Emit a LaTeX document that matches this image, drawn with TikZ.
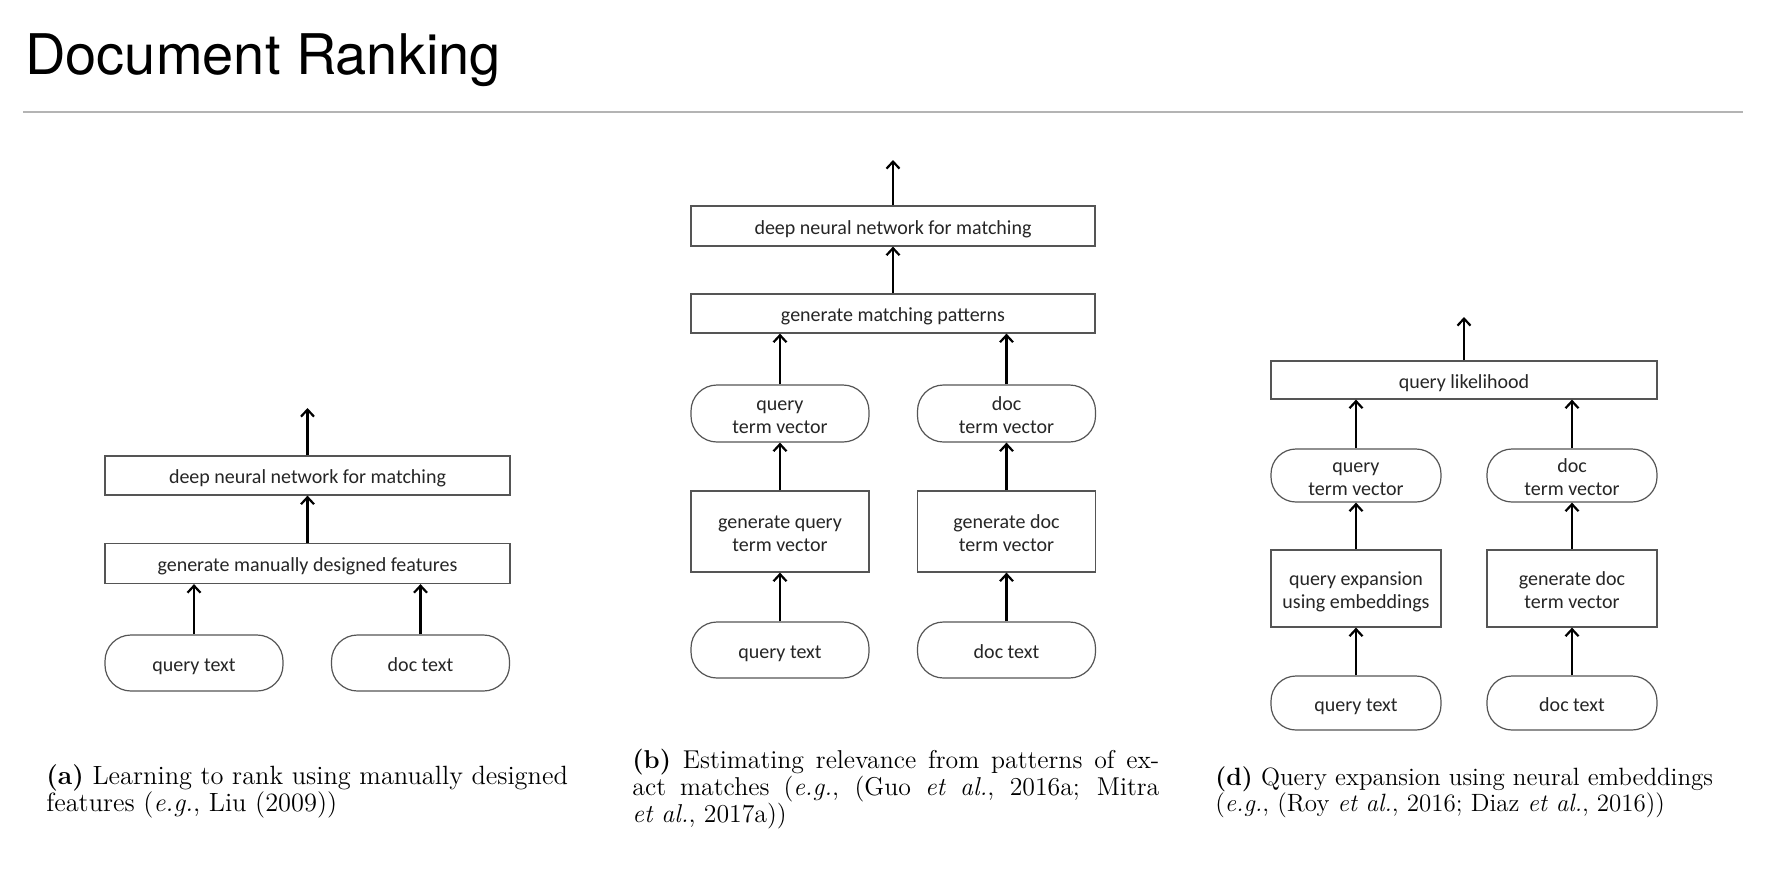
\documentclass[tikz,border=0pt]{standalone}
\usepackage{fontspec}
\newfontfamily\boxfont{Carlito}
\newfontfamily\headfont{TeX Gyre Heros}
\usetikzlibrary{arrows.meta}
\definecolor{boxgray}{HTML}{555555}
\definecolor{rulegray}{HTML}{B4B4B4}

\begin{document}
\begin{tikzpicture}[
  x=0.5pt, y=-0.5pt,
  blk/.style={draw=boxgray,line width=0.6pt,inner sep=1pt,align=center,
    text height=9.5pt,text depth=1.1pt,
    font=\boxfont\fontsize{10}{11.3}\selectfont,text=black!85},
  two/.style={text height=20.8pt,text depth=1.1pt},
  pill/.style={blk,rounded corners=#1},
  pill/.default=13pt,
  ptr/.style={-{Straight Barb[length=3.5pt,width=6.5pt]},line width=1.1pt},
  capt/.style={anchor=north west,inner sep=0pt,align=#1},
  capt/.default=left,
]
\fill[white] (0,0) rectangle (1777,874);
\useasboundingbox (0,0) rectangle (1777,874);

% title and rule
\node[anchor=base west,inner sep=0pt,font=\headfont\fontsize{28}{30}\selectfont]
  (title) at (25,74) {Document Ranking};
\draw[rulegray,line width=0.6pt] (23,112) -- (1743,112);

% (a) manually designed features
\node[blk,minimum width=202.5pt,minimum height=19.5pt] (dnnA) at (307.5,475.5)
  {deep neural network for matching};
\node[blk,minimum width=202.5pt,minimum height=20pt] (featA) at (307.5,563.5)
  {generate manually designed features};
\node[pill,minimum width=89pt,minimum height=28pt] (qtxtA) at (194,663) {query text};
\node[pill,minimum width=89pt,minimum height=28pt] (dtxtA) at (420.5,663) {doc text};
\coordinate (outA) at (307.5,408);

% (b) exact matches
\node[blk,minimum width=202pt,minimum height=20pt] (dnnB) at (893,226)
  {deep neural network for matching};
\node[blk,minimum width=202pt,minimum height=19.5pt] (patB) at (893,313.5)
  {generate matching patterns};
\node[pill,two,minimum width=89pt,minimum height=28.5pt] (qvecB) at (780,413.5)
  {query\\term vector};
\node[pill,two,minimum width=89pt,minimum height=28.5pt] (dvecB) at (1006.5,413.5)
  {doc\\term vector};
\node[blk,two,minimum width=89pt,minimum height=40.5pt] (qgenB) at (780,531.5)
  {generate query\\term vector};
\node[blk,two,minimum width=89pt,minimum height=40.5pt] (dgenB) at (1006.5,531.5)
  {generate doc\\term vector};
\node[pill,minimum width=89pt,minimum height=28pt] (qtxtB) at (780,650) {query text};
\node[pill,minimum width=89pt,minimum height=28pt] (dtxtB) at (1006.5,650) {doc text};
\coordinate (outB) at (893,160);

% (d) query expansion
\node[blk,minimum width=193pt,minimum height=19pt] (qlD) at (1464,380)
  {query likelihood};
\node[pill=12.5pt,two,minimum width=85pt,minimum height=26.5pt] (qvecD) at (1356,475.5)
  {query\\term vector};
\node[pill=12.5pt,two,minimum width=85pt,minimum height=26.5pt] (dvecD) at (1572,475.5)
  {doc\\term vector};
\node[blk,two,minimum width=85pt,minimum height=38.5pt] (qexpD) at (1356,588.5)
  {query expansion\\using embeddings};
\node[blk,two,minimum width=85pt,minimum height=38.5pt] (dgenD) at (1572,588.5)
  {generate doc\\term vector};
\node[pill=12.5pt,minimum width=85pt,minimum height=27pt] (qtxtD) at (1356,703) {query text};
\node[pill=12.5pt,minimum width=85pt,minimum height=27pt] (dtxtD) at (1572,703) {doc text};
\coordinate (outD) at (1464,317);

% arrows
\foreach \a/\b in {dnnA/outA,featA/dnnA,dnnB/outB,patB/dnnB,qlD/outD,
  qtxtB/qgenB,dtxtB/dgenB,qgenB/qvecB,dgenB/dvecB,
  qtxtD/qexpD,dtxtD/dgenD,qexpD/qvecD,dgenD/dvecD}{
  \draw[ptr] (\a) -- (\b);
}
\foreach \a/\b in {qtxtA/featA,dtxtA/featA,qvecB/patB,dvecB/patB,qvecD/qlD,dvecD/qlD}{
  \draw[ptr] (\a.north) -- (\a.north |- \b.south);
}

% captions
\node[capt,font=\fontsize{13.2}{13.5}\selectfont] (captA) at (46,764)
  {\textbf{(a)} Learning to rank using manually designed\\
   features (\textit{e.g.}, Liu (2009))};
\node[capt=justify,text width=263.5pt,font=\fontsize{12.9}{13.5}\selectfont] (captB) at (632,749)
  {\textbf{(b)} Estimating relevance from patterns of ex-\linebreak
   act matches (\textit{e.g.}, (Guo \textit{et al.}, 2016a; Mitra\linebreak
   \textit{et al.}, 2017a))};
\node[capt,font=\fontsize{12.5}{13.2}\selectfont] (captD) at (1215,766)
  {\textbf{(d)} Query expansion using neural embeddings\\
   (\textit{e.g.}, (Roy \textit{et al.}, 2016; Diaz \textit{et al.}, 2016))};
\end{tikzpicture}
\end{document}
